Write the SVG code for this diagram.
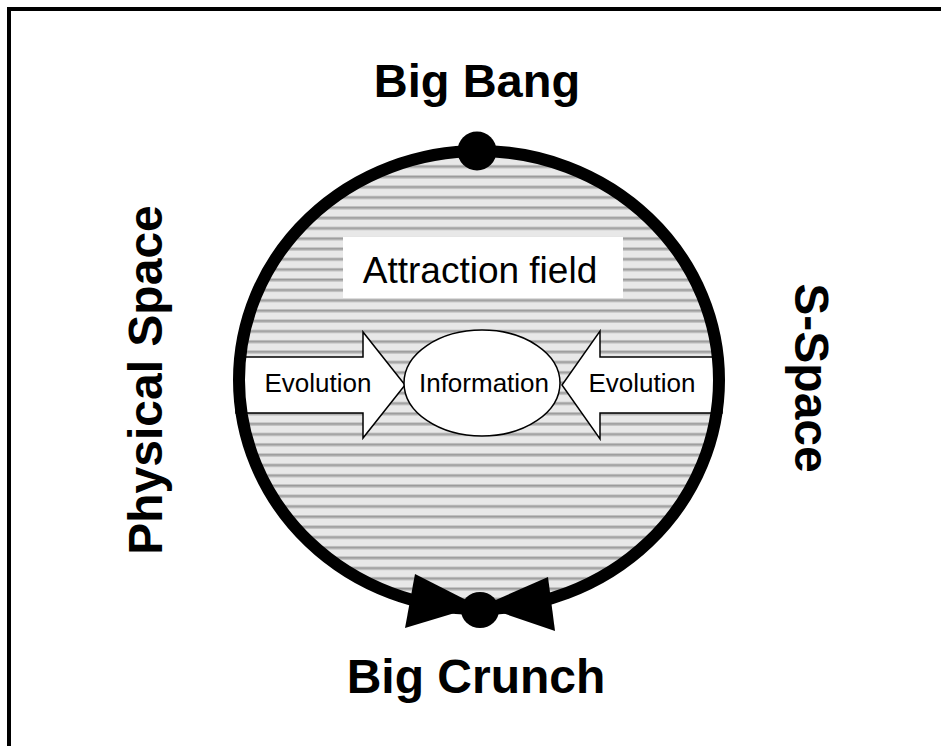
<svg xmlns="http://www.w3.org/2000/svg" width="941" height="746" viewBox="0 0 941 746">
<style>
.bold{font-family:"Liberation Sans",Arial,sans-serif;font-weight:bold;fill:#000}
.reg{font-family:"Liberation Sans",Arial,sans-serif;fill:#000}
.shape{fill:#fff;stroke:#000;stroke-width:1.5}
</style>
<defs>
<pattern id="stripes" x="0" y="0" width="10" height="10.3" patternUnits="userSpaceOnUse">
<rect width="10" height="10.3" fill="#e8e8e8"/>
<rect y="0" width="10" height="1" fill="#c0c0c0"/>
<rect y="1" width="10" height="1.6" fill="#969696"/>
<rect y="2.6" width="10" height="1" fill="#c0c0c0"/>
</pattern>
</defs>
<rect width="941" height="746" fill="#fff"/>
<rect x="9" y="9" width="945" height="750" fill="none" stroke="#000" stroke-width="4"/>
<g id="universe">
<ellipse cx="479" cy="380" rx="240" ry="229" fill="url(#stripes)"/>
</g>
<g id="attraction-field">
<rect x="343" y="237" width="280" height="61" fill="#fff"/>
<text class="reg" x="480" y="283" font-size="37" text-anchor="middle">Attraction field</text>
</g>
<g id="evolution-left">
<polygon class="shape" points="236,357 363,357 363,332 405,385 363,438 363,413 236,413"/>
<text class="reg" x="318" y="392" font-size="26" text-anchor="middle">Evolution</text>
</g>
<g id="evolution-right">
<polygon class="shape" points="722,357 600,357 600,331 562,385 600,439 600,413 722,413"/>
<text class="reg" x="642" y="392" font-size="26" text-anchor="middle">Evolution</text>
</g>
<g id="information">
<ellipse class="shape" cx="482" cy="383" rx="78" ry="53"/>
<text class="reg" x="484" y="392" font-size="26" text-anchor="middle">Information</text>
</g>
<g id="ring">
<ellipse cx="479" cy="380" rx="240" ry="229" fill="none" stroke="#000" stroke-width="12"/>
</g>
<g id="connectors">
<polygon points="415,574 405,628 478,606" fill="#000"/>
<polygon points="548,577 555,631 482,606" fill="#000"/>
</g>
<g id="big-bang">
<circle cx="477" cy="151" r="19.5" fill="#000"/>
<text class="bold" x="477" y="97" font-size="47" text-anchor="middle">Big Bang</text>
</g>
<g id="big-crunch">
<ellipse cx="480" cy="610" rx="19" ry="18" fill="#000"/>
<text class="bold" x="476" y="693" font-size="48" text-anchor="middle">Big Crunch</text>
</g>
<g id="physical-space">
<text class="bold" x="0" y="0" font-size="48" text-anchor="middle" transform="translate(162,380) rotate(-90)">Physical Space</text>
</g>
<g id="s-space">
<text class="bold" x="0" y="0" font-size="48" text-anchor="middle" transform="translate(795,378) rotate(90)">S-Space</text>
</g>
</svg>
